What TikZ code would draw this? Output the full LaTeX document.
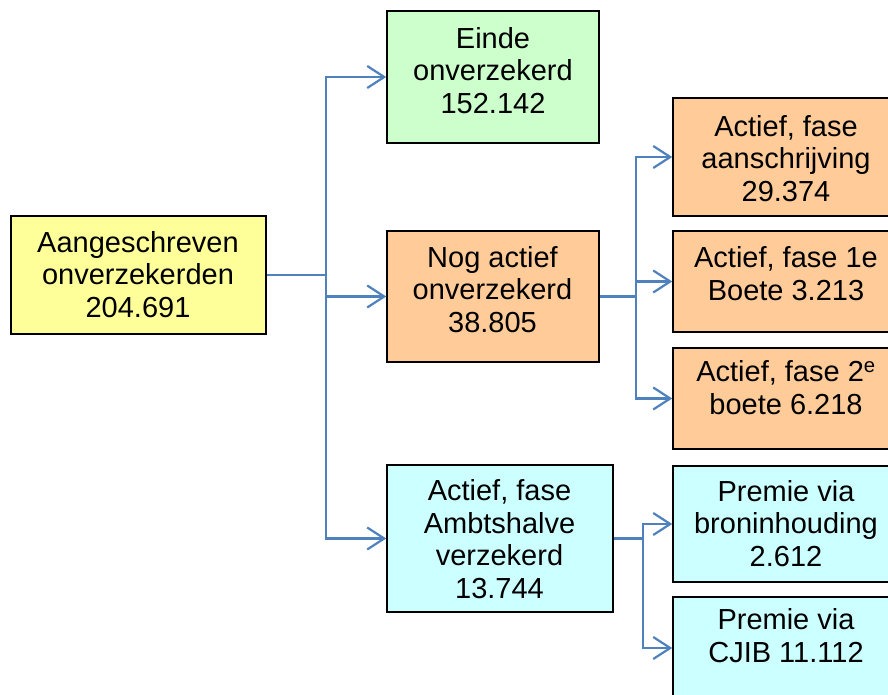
\documentclass[tikz,border=0pt]{standalone}
\usepackage{fontspec}
\setmainfont{Liberation Sans}
\usetikzlibrary{arrows.meta}
\definecolor{cyel}{RGB}{255,255,153}
\definecolor{cgrn}{RGB}{204,255,204}
\definecolor{corg}{RGB}{255,204,153}
\definecolor{ccyn}{RGB}{204,255,255}
\definecolor{cline}{RGB}{79,129,189}
\begin{document}
\begin{tikzpicture}[x=1pt,y=-1pt,
  box/.style={draw=black, line width=1.5pt, inner sep=0pt},
  txt/.style={align=center, inner sep=0pt, font=\fontsize{29}{32.5}\selectfont},
  conn/.style={draw=cline, line width=2.2pt, -{Straight Barb[length=17pt,width=22pt]}},
  link/.style={draw=cline, line width=2.2pt}]
\useasboundingbox (0,0) rectangle (888,695);
% boxes
\node[box, fill=cyel, minimum width=255pt, minimum height=118pt] (root) at (138.5,275) {};
\node[box, fill=cgrn, minimum width=212pt, minimum height=132pt] (n1) at (493,77) {};
\node[box, fill=corg, minimum width=212pt, minimum height=131pt] (n2) at (493,296.5) {};
\node[box, fill=ccyn, minimum width=226pt, minimum height=147pt] (n3) at (500,538.5) {};
\node[box, fill=corg, minimum width=222pt, minimum height=118pt] (r1) at (784,157) {};
\node[box, fill=corg, minimum width=222pt, minimum height=101pt] (r2) at (784,281.5) {};
\node[box, fill=corg, minimum width=222pt, minimum height=101pt] (r3) at (784,398.5) {};
\node[box, fill=ccyn, minimum width=222pt, minimum height=116pt] (r4) at (784,524) {};
\node[box, fill=ccyn, minimum width=222pt, minimum height=102pt] (r5) at (784,648) {};
% texts
\node[txt] (troot) at (138,278) {\strut Aangeschreven\\\strut onverzekerden\\\strut 204.691};
\node[txt] (t1) at (493,74.5) {\strut Einde\\\strut onverzekerd\\\strut 152.142};
\node[txt] (t2) at (492.5,293) {\strut Nog actief\\\strut onverzekerd\\\strut 38.805};
\node[txt] (t3) at (499.5,543) {\strut Actief, fase\\\strut Ambtshalve\\\strut verzekerd\\\strut 13.744};
\node[txt] (tr1) at (786,162) {\strut Actief, fase\\\strut aanschrijving\\\strut 29.374};
\node[txt] (tr2) at (786,277.5) {\strut Actief, fase 1e\\\strut Boete 3.213};
\node[txt] (tr3) at (786,391.5) {\strut Actief, fase 2\textsuperscript{e}\\\strut boete 6.218};
\node[txt] (tr4) at (786,527) {\strut Premie via\\\strut broninhouding\\\strut 2.612};
\node[txt] (tr5) at (786,639.5) {\strut Premie via\\\strut CJIB 11.112};
% connectors
\coordinate (j1) at (326,275);
\coordinate (j2) at (636,296.5);
\coordinate (j3) at (643,538.5);
\draw[link] (root.east) -- (j1);
\draw[conn] (j1) |- (n1.west);
\draw[conn] (j1) |- (n2.west);
\draw[conn] (j1) |- (n3.west);
\draw[link] (n2.east) -- (j2);
\draw[conn] (j2) |- (r1.west);
\draw[conn] (j2) |- (r2.west);
\draw[conn] (j2) |- (r3.west);
\draw[link] (n3.east) -- (j3);
\draw[conn] (j3) |- (r4.west);
\draw[conn] (j3) |- (r5.west);
\end{tikzpicture}
\end{document}
